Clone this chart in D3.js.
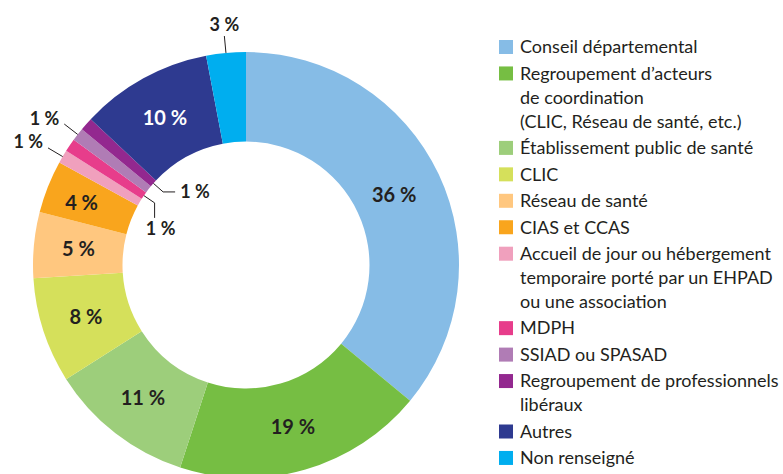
<!DOCTYPE html>
<html>
<head>
<meta charset="utf-8">
<script src="https://cdn.jsdelivr.net/npm/d3@7"></script>
<style>
  html, body { margin: 0; padding: 0; background: #ffffff; }
  svg { display: block; }
  text { font-family: Lato, "Open Sans", sans-serif; fill: #231f20; }
</style>
</head>
<body>
<svg id="chart" width="783" height="474"></svg>
<script>
// ---- Data ----
const categories = [
  "Conseil départemental",
  "Regroupement d’acteurs de coordination (CLIC, Réseau de santé, etc.)",
  "Établissement public de santé",
  "CLIC",
  "Réseau de santé",
  "CIAS et CCAS",
  "Accueil de jour ou hébergement temporaire porté par un EHPAD ou une association",
  "MDPH",
  "SSIAD ou SPASAD",
  "Regroupement de professionnels libéraux",
  "Autres",
  "Non renseigné"
];
const values = [36, 19, 11, 8, 5, 4, 1, 1, 1, 1, 10, 3];
const legendLines = [
  ["Conseil départemental"],
  ["Regroupement d’acteurs", "de coordination", "(CLIC, Réseau de santé, etc.)"],
  ["Établissement public de santé"],
  ["CLIC"],
  ["Réseau de santé"],
  ["CIAS et CCAS"],
  ["Accueil de jour ou hébergement", "temporaire porté par un EHPAD", "ou une association"],
  ["MDPH"],
  ["SSIAD ou SPASAD"],
  ["Regroupement de professionnels", "libéraux"],
  ["Autres"],
  ["Non renseigné"]
];
const colors = [
  "#86bce6", "#76be43", "#9dce7b", "#d5e05b", "#ffc77f", "#f9a51d",
  "#f0a0bd", "#e73d8b", "#b07cb5", "#93288f", "#2e3a90", "#00aeef"
];

// ---- Layout ----
const cx = 246, cy = 265, R = 213, r = 123.5;
const svg = d3.select("#chart");
const data = categories.map((c, i) => ({ cat: c, value: values[i], color: colors[i], idx: i }));

const pie = d3.pie().sort(null).value(d => d.value).startAngle(0).endAngle(2 * Math.PI);
const arc = d3.arc().innerRadius(r).outerRadius(R);
const arcs = pie(data);

const g = svg.append("g").attr("transform", `translate(${cx},${cy})`);
g.selectAll("path.slice").data(arcs).enter().append("path")
  .attr("class", "slice")
  .attr("d", arc)
  .attr("fill", d => d.data.color);

// label modes: inside / outer leader / inner leader
const labelMode = ["in","in","in","in","in","in","out","inner","out","inner","in","out"];
const inNudge = { 5: [-8, 0], 0: [-4, 1] };
const polar = (rad, ang) => [rad * Math.sin(ang), -rad * Math.cos(ang)];
const fmt = v => v + " %";

arcs.forEach((a, i) => {
  const mid = (a.startAngle + a.endAngle) / 2;
  const mode = labelMode[i];
  if (mode === "in") {
    const c = arc.centroid(a);
    const n = inNudge[i] || [0, 0];
    g.append("text")
      .attr("x", c[0] + n[0]).attr("y", c[1] + n[1])
      .attr("text-anchor", "middle").attr("dy", "0.36em")
      .style("font-weight", 700).style("font-size", "20px")
      .style("fill", i === 10 ? "#ffffff" : "#231f20")
      .text(fmt(a.data.value));
  } else if (mode === "out") {
    const p0 = polar(R, mid), p1 = polar(R + 17, mid);
    g.append("line").attr("x1", p0[0]).attr("y1", p0[1]).attr("x2", p1[0]).attr("y2", p1[1])
      .attr("stroke", "#231f20").attr("stroke-width", 1);
    const t = g.append("text").style("font-weight", 700).style("font-size", "18px")
      .attr("dy", "0.36em").text(fmt(a.data.value));
    if (p1[1] < -200) {
      t.attr("x", p1[0]).attr("y", p1[1] - 12).attr("text-anchor", "middle");
    } else {
      t.attr("x", p1[0] - 5).attr("y", p1[1] - 6).attr("text-anchor", "end");
    }
  } else {
    const p0 = polar(r, mid), p1 = polar(r - 13, mid);
    const vertical = i === 7;
    const p2 = vertical ? [p1[0], p1[1] + 15] : [p1[0] + 12, p1[1]];
    g.append("polyline")
      .attr("points", [p0, p1, p2].map(p => p.join(",")).join(" "))
      .attr("fill", "none").attr("stroke", "#231f20").attr("stroke-width", 1);
    const t = g.append("text").style("font-weight", 700).style("font-size", "18px")
      .attr("dy", "0.36em").text(fmt(a.data.value));
    if (vertical) {
      t.attr("x", p2[0] + 6).attr("y", p2[1] + 11).attr("text-anchor", "middle");
    } else {
      t.attr("x", p2[0] + 5).attr("y", p2[1]).attr("text-anchor", "start");
    }
  }
});

// ---- Legend ----
const legend = svg.append("g");
const lx = 499, tx = 520, y0 = 47, lineStep = 24, entryStep = 26.45;
let y = y0;
legendLines.forEach((lines, i) => {
  legend.append("rect").attr("x", lx).attr("y", y - 7).attr("width", 14).attr("height", 14)
    .attr("fill", colors[i]);
  lines.forEach((ln, j) => {
    legend.append("text").attr("x", tx).attr("y", y + j * lineStep).attr("dy", "0.35em")
      .style("font-size", "18px").text(ln);
  });
  y += (lines.length - 1) * lineStep + entryStep;
});
</script>
</body>
</html>
